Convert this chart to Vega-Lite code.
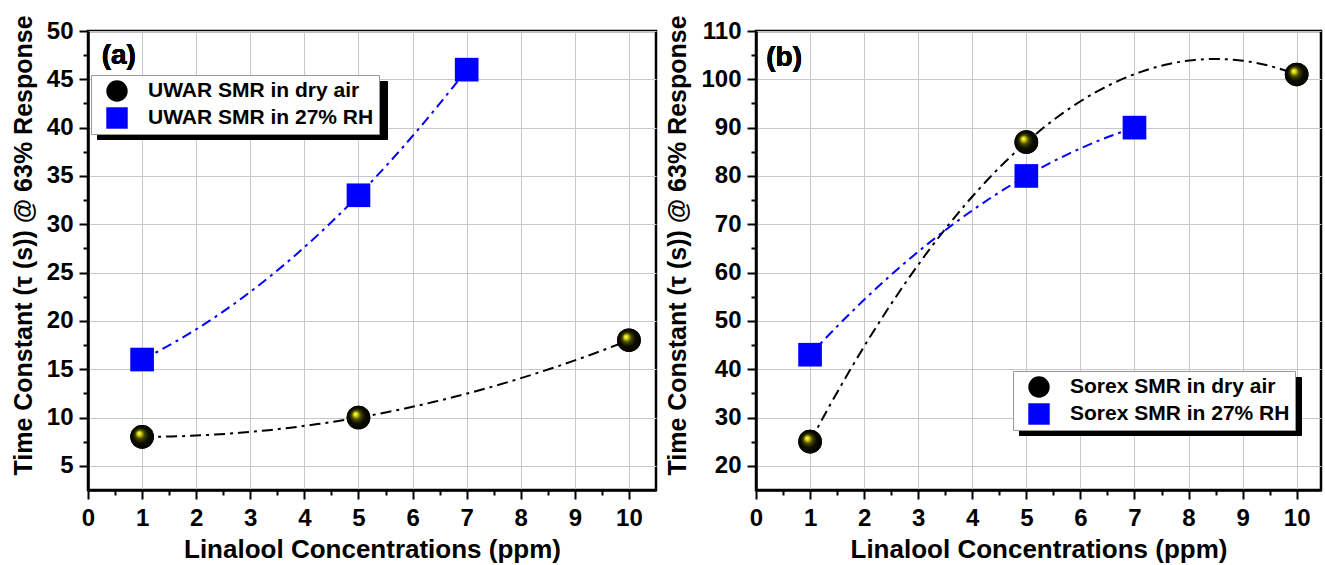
{
  "$schema": "https://vega.github.io/schema/vega-lite/v6.json",
  "background": "white",
  "padding": {"left": 10, "top": 13, "right": 0, "bottom": 0},
  "spacing": 6,
  "datasets": {
    "a": [
      {"x": 1, "y": 8, "series": "UWAR SMR in dry air"},
      {"x": 5, "y": 10, "series": "UWAR SMR in dry air"},
      {"x": 10, "y": 18, "series": "UWAR SMR in dry air"},
      {"x": 1, "y": 16, "series": "UWAR SMR in 27% RH"},
      {"x": 5, "y": 33, "series": "UWAR SMR in 27% RH"},
      {"x": 7, "y": 46, "series": "UWAR SMR in 27% RH"}
    ],
    "b": [
      {"x": 1, "y": 25, "series": "Sorex SMR in dry air"},
      {"x": 5, "y": 87, "series": "Sorex SMR in dry air"},
      {"x": 10, "y": 101, "series": "Sorex SMR in dry air"},
      {"x": 1, "y": 43, "series": "Sorex SMR in 27% RH"},
      {"x": 5, "y": 80, "series": "Sorex SMR in 27% RH"},
      {"x": 7, "y": 90, "series": "Sorex SMR in 27% RH"}
    ]
  },
  "resolve": {
    "scale": {"x": "independent", "y": "independent", "fill": "independent", "shape": "independent", "opacity": "independent"},
    "legend": {"fill": "independent", "shape": "independent", "opacity": "independent"}
  },
  "hconcat": [
    {
      "width": 568,
      "height": 459,
      "data": {"name": "a"},
      "resolve": {"axis": {"x": "independent", "y": "independent"}},
      "layer": [
        {
          "transform": [{"filter": "datum.series === 'UWAR SMR in dry air'"}, {"regression": "y", "on": "x", "method": "poly", "order": 2, "groupby": ["series"]}],
          "mark": {"type": "line", "strokeWidth": 2, "strokeDash": [11, 5, 3, 5], "color": "#000000"},
          "encoding": {
            "x": {"field": "x", "type": "quantitative", "scale": {"domain": [0, 10.5], "nice": false, "zero": false},
              "axis": {"orient": "bottom", "values": [0,1,2,3,4,5,6,7,8,9,10], "title": "Linalool Concentrations (ppm)"}},
            "y": {"field": "y", "type": "quantitative", "scale": {"domain": [2.5, 50], "nice": false, "zero": false},
              "axis": {"orient": "left", "values": [5,10,15,20,25,30,35,40,45,50], "title": "Time Constant (τ (s)) @ 63% Response", "titleY": 214}},
            "opacity": {"field": "series", "type": "nominal", "scale": {"range": [1, 1]},
              "legend": {"title": null, "orient": "none", "legendX": 9, "legendY": 50, "zindex": 0, "labelExpr": "''", "symbolType": "square", "symbolSize": 2304, "symbolOffset": 0, "labelOffset": 232, "symbolFillColor": "#000000", "symbolStrokeColor": "#000000", "fillColor": "#000000", "strokeColor": "#000000", "labelColor": "#000000"}}
          }
        },
        {
          "transform": [{"filter": "datum.series === 'UWAR SMR in 27% RH'"}, {"regression": "y", "on": "x", "method": "poly", "order": 2}],
          "mark": {"type": "line", "strokeWidth": 2, "strokeDash": [10, 5, 3, 5], "color": "#0000ff"},
          "encoding": {
            "x": {"field": "x", "type": "quantitative", "scale": {"domain": [0, 10.5], "nice": false, "zero": false}, "axis": null},
            "y": {"field": "y", "type": "quantitative", "scale": {"domain": [2.5, 50], "nice": false, "zero": false}, "axis": null}
          }
        },
        {
          "mark": {"type": "point", "filled": true, "opacity": 1, "size": 560, "strokeWidth": 0},
          "encoding": {
            "x": {"field": "x", "type": "quantitative", "scale": {"domain": [0, 10.5], "nice": false, "zero": false},
              "axis": {"orient": "bottom", "values": [0.5,1.5,2.5,3.5,4.5,5.5,6.5,7.5,8.5,9.5], "labels": false, "domain": false, "grid": false, "tickSize": 5, "title": null}},
            "y": {"field": "y", "type": "quantitative", "scale": {"domain": [2.5, 50], "nice": false, "zero": false},
              "axis": {"orient": "left", "values": [7.5,12.5,17.5,22.5,27.5,32.5,37.5,42.5,47.5], "labels": false, "domain": false, "grid": false, "tickSize": 5, "title": null}},
            "shape": {"field": "series", "type": "nominal", "scale": {"domain": ["UWAR SMR in dry air", "UWAR SMR in 27% RH"], "range": ["circle", "square"]},
              "legend": {"title": null, "orient": "none", "legendX": 3, "legendY": 44, "zindex": 1}},
            "fill": {"field": "series", "type": "nominal", "scale": {"domain": ["UWAR SMR in dry air", "UWAR SMR in 27% RH"], "range": ["#000000", "#0000ff"]},
              "legend": {"title": null, "orient": "none", "legendX": 3, "legendY": 44, "zindex": 1}}
          }
        },
        {
          "transform": [{"filter": "datum.series === 'UWAR SMR in dry air'"}],
          "mark": {"type": "point", "shape": "circle", "filled": true, "opacity": 1, "size": 560, "strokeWidth": 0,
            "fill": {"gradient": "radial", "x1": 0.36, "y1": 0.34, "r1": 0, "x2": 0.5, "y2": 0.5, "r2": 0.55, "stops": [{"offset": 0, "color": "#ffff90"}, {"offset": 0.14, "color": "#dede00"}, {"offset": 0.34, "color": "#4a4a00"}, {"offset": 0.6, "color": "#0d0d00"}, {"offset": 1, "color": "#000000"}]}},
          "encoding": {
            "x": {"field": "x", "type": "quantitative", "scale": {"domain": [0, 10.5], "nice": false, "zero": false}, "axis": null},
            "y": {"field": "y", "type": "quantitative", "scale": {"domain": [2.5, 50], "nice": false, "zero": false}, "axis": null}
          }
        },
        {
          "mark": {"type": "text", "text": "(a)", "fontSize": 28, "fontWeight": "bold", "align": "center", "baseline": "middle"},
          "encoding": {
            "x": {"datum": 0.57, "type": "quantitative", "scale": {"domain": [0, 10.5], "nice": false, "zero": false}, "axis": null},
            "y": {"datum": 47.4, "type": "quantitative", "scale": {"domain": [2.5, 50], "nice": false, "zero": false}, "axis": null}
          }
        }
      ]
    },
    {
      "width": 565,
      "height": 459,
      "data": {"name": "b"},
      "resolve": {"axis": {"x": "independent", "y": "independent"}},
      "layer": [
        {
          "transform": [{"filter": "datum.series === 'Sorex SMR in dry air'"}, {"regression": "y", "on": "x", "method": "poly", "order": 2, "groupby": ["series"]}],
          "mark": {"type": "line", "strokeWidth": 2, "strokeDash": [11, 5, 3, 5], "color": "#000000"},
          "encoding": {
            "x": {"field": "x", "type": "quantitative", "scale": {"domain": [0, 10.45], "nice": false, "zero": false},
              "axis": {"orient": "bottom", "values": [0,1,2,3,4,5,6,7,8,9,10], "title": "Linalool Concentrations (ppm)"}},
            "y": {"field": "y", "type": "quantitative", "scale": {"domain": [15, 110], "nice": false, "zero": false},
              "axis": {"orient": "left", "values": [20,30,40,50,60,70,80,90,100,110], "title": "Time Constant (τ (s)) @ 63% Response", "titleY": 214}},
            "opacity": {"field": "series", "type": "nominal", "scale": {"range": [1, 1]},
              "legend": {"title": null, "orient": "none", "legendX": 263, "legendY": 346, "zindex": 0, "labelExpr": "''", "symbolType": "square", "symbolSize": 2304, "symbolOffset": 0, "labelOffset": 224, "symbolFillColor": "#000000", "symbolStrokeColor": "#000000", "fillColor": "#000000", "strokeColor": "#000000", "labelColor": "#000000"}}
          }
        },
        {
          "transform": [{"filter": "datum.series === 'Sorex SMR in 27% RH'"}, {"regression": "y", "on": "x", "method": "poly", "order": 2}],
          "mark": {"type": "line", "strokeWidth": 2, "strokeDash": [10, 5, 3, 5], "color": "#0000ff"},
          "encoding": {
            "x": {"field": "x", "type": "quantitative", "scale": {"domain": [0, 10.45], "nice": false, "zero": false}, "axis": null},
            "y": {"field": "y", "type": "quantitative", "scale": {"domain": [15, 110], "nice": false, "zero": false}, "axis": null}
          }
        },
        {
          "mark": {"type": "point", "filled": true, "opacity": 1, "size": 560, "strokeWidth": 0},
          "encoding": {
            "x": {"field": "x", "type": "quantitative", "scale": {"domain": [0, 10.45], "nice": false, "zero": false},
              "axis": {"orient": "bottom", "values": [0.5,1.5,2.5,3.5,4.5,5.5,6.5,7.5,8.5,9.5], "labels": false, "domain": false, "grid": false, "tickSize": 5, "title": null}},
            "y": {"field": "y", "type": "quantitative", "scale": {"domain": [15, 110], "nice": false, "zero": false},
              "axis": {"orient": "left", "values": [25,35,45,55,65,75,85,95,105], "labels": false, "domain": false, "grid": false, "tickSize": 5, "title": null}},
            "shape": {"field": "series", "type": "nominal", "scale": {"domain": ["Sorex SMR in dry air", "Sorex SMR in 27% RH"], "range": ["circle", "square"]},
              "legend": {"title": null, "orient": "none", "legendX": 257, "legendY": 340, "zindex": 1}},
            "fill": {"field": "series", "type": "nominal", "scale": {"domain": ["Sorex SMR in dry air", "Sorex SMR in 27% RH"], "range": ["#000000", "#0000ff"]},
              "legend": {"title": null, "orient": "none", "legendX": 257, "legendY": 340, "zindex": 1}}
          }
        },
        {
          "transform": [{"filter": "datum.series === 'Sorex SMR in dry air'"}],
          "mark": {"type": "point", "shape": "circle", "filled": true, "opacity": 1, "size": 560, "strokeWidth": 0,
            "fill": {"gradient": "radial", "x1": 0.36, "y1": 0.34, "r1": 0, "x2": 0.5, "y2": 0.5, "r2": 0.55, "stops": [{"offset": 0, "color": "#ffff90"}, {"offset": 0.14, "color": "#dede00"}, {"offset": 0.34, "color": "#4a4a00"}, {"offset": 0.6, "color": "#0d0d00"}, {"offset": 1, "color": "#000000"}]}},
          "encoding": {
            "x": {"field": "x", "type": "quantitative", "scale": {"domain": [0, 10.45], "nice": false, "zero": false}, "axis": null},
            "y": {"field": "y", "type": "quantitative", "scale": {"domain": [15, 110], "nice": false, "zero": false}, "axis": null}
          }
        },
        {
          "mark": {"type": "text", "text": "(b)", "fontSize": 28, "fontWeight": "bold", "align": "center", "baseline": "middle"},
          "encoding": {
            "x": {"datum": 0.52, "type": "quantitative", "scale": {"domain": [0, 10.45], "nice": false, "zero": false}, "axis": null},
            "y": {"datum": 104.4, "type": "quantitative", "scale": {"domain": [15, 110], "nice": false, "zero": false}, "axis": null}
          }
        }
      ]
    }
  ],
  "config": {
    "font": "Liberation Sans",
    "view": {"stroke": "#000000", "strokeWidth": 2.5},
    "axis": {
      "domainColor": "#000000",
      "domainWidth": 2.5,
      "tickColor": "#000000",
      "tickWidth": 2,
      "tickSize": 9,
      "gridColor": "#c8c8c8",
      "gridWidth": 1,
      "grid": true,
      "labelFont": "Liberation Sans",
      "labelFontSize": 24,
      "labelFontWeight": "bold",
      "labelColor": "#000000",
      "labelPadding": 6,
      "labelOverlap": false,
      "labelFlush": false,
      "titleFont": "Liberation Sans",
      "titleFontSize": 25,
      "titleFontWeight": "bold",
      "titleColor": "#000000",
      "titlePadding": 10
    },
    "axisX": {"titleFontSize": 26, "titlePadding": 6, "labelPadding": 7},
    "legend": {
      "labelFont": "Liberation Sans",
      "labelFontSize": 21,
      "labelFontWeight": "bold",
      "labelColor": "#000000",
      "labelLimit": 400,
      "labelOffset": 20,
      "symbolSize": 460,
      "symbolOffset": 10,
      "symbolStrokeWidth": 0,
      "rowPadding": 5,
      "padding": 5,
      "fillColor": "#ffffff",
      "strokeColor": "#9a9a9a",
      "strokeWidth": 1
    }
  }
}
